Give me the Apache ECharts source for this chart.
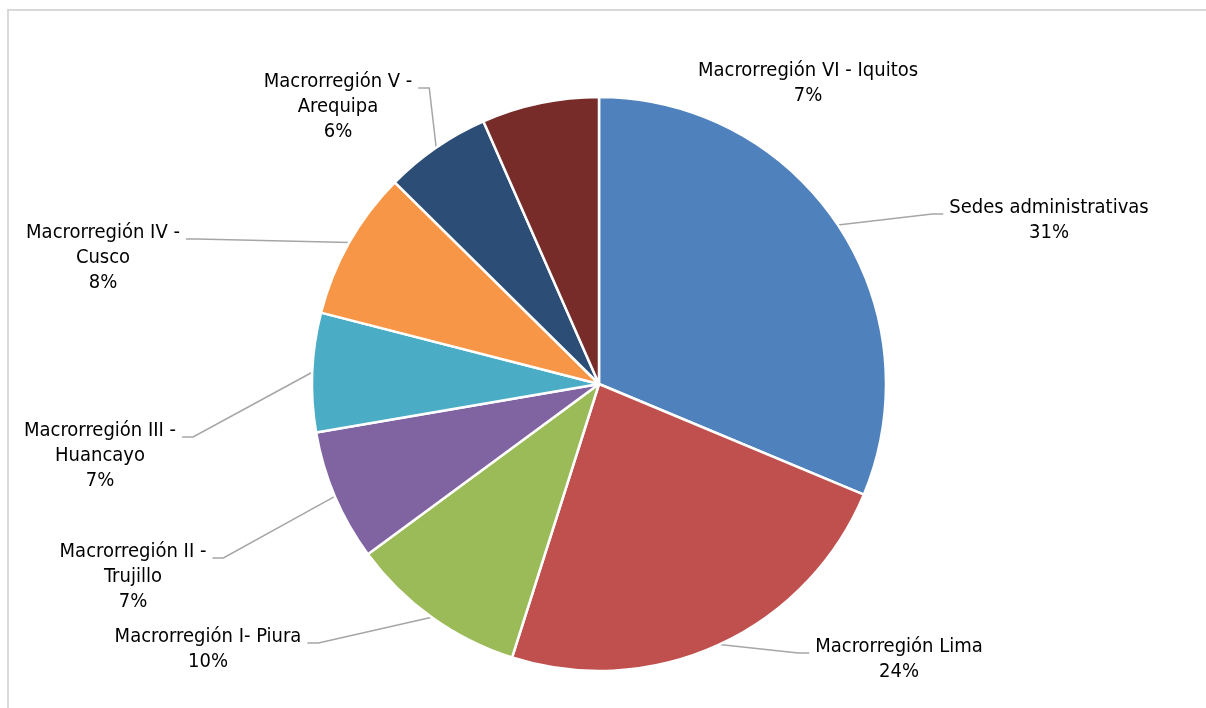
<!DOCTYPE html>
<html>
<head>
<meta charset="utf-8">
<script src="https://cdn.jsdelivr.net/npm/echarts@6/dist/echarts.min.js"></script>
<style>
html,body{margin:0;padding:0;background:#fff;}
#chart{width:1206px;height:708px;}
</style>
</head>
<body>
<div id="chart"></div>
<script>
// ---- data ----
const categories = [
  'Sedes administrativas',
  'Macrorregión Lima',
  'Macrorregión I- Piura',
  'Macrorregión II -\nTrujillo',
  'Macrorregión III -\nHuancayo',
  'Macrorregión IV -\nCusco',
  'Macrorregión V -\nArequipa',
  'Macrorregión VI - Iquitos'
];
const values = [31.3, 23.6, 10.0, 7.4, 6.7, 8.4, 6.0, 6.6];

// ---- styles ----
const colors = ['#4F81BD', '#C0504D', '#9BBB59', '#8064A2', '#4BACC6', '#F79646', '#2C4D75', '#772C2A'];
// label block placement: centre x, top y
const labelSpots = [
  {cx: 1049, top: 195},
  {cx: 899, top: 634},
  {cx: 208, top: 624},
  {cx: 133, top: 539},
  {cx: 100, top: 418},
  {cx: 103, top: 220},
  {cx: 338, top: 69},
  {cx: 808, top: 58}
];
const FONT = '"DejaVu Sans Condensed", Tahoma, "DejaVu Sans", sans-serif';
const FS = 20, LH = 25;

const chart = echarts.init(document.getElementById('chart'));
chart.setOption({
  animation: false,
  backgroundColor: '#fff',
  graphic: [{
    type: 'rect', silent: true, z: -10,
    shape: {x: 8, y: 10, width: 1300, height: 800},
    style: {fill: 'none', stroke: '#d9d9d9', lineWidth: 2}
  }],
  series: [{
    type: 'pie',
    center: [599, 384],
    radius: 287,
    startAngle: 90,
    clockwise: true,
    percentPrecision: 0,
    avoidLabelOverlap: false,
    itemStyle: {borderColor: '#fff', borderWidth: 2.5},
    label: {
      show: true,
      position: 'outside',
      formatter: '{b}\n{d}%',
      fontFamily: FONT,
      fontSize: FS,
      lineHeight: LH,
      color: '#000'
    },
    labelLine: {show: true, length: 20, length2: 10, lineStyle: {color: '#a6a6a6', width: 1.5}},
    labelLayout: function (p) {
      const s = labelSpots[p.dataIndex];
      const w = p.labelRect.width;
      const res = {x: s.cx, y: s.top, align: 'center', verticalAlign: 'top'};
      const pts = p.labelLinePoints;
      if (pts && pts.length) {
        const p0 = pts[0];
        const left = s.cx < p0[0];
        const ey = s.top + 19;
        const ex = left ? s.cx + w / 2 + 6 : s.cx - w / 2 - 6;
        const bx = left ? ex + 11 : ex - 11;
        res.labelLinePoints = [[p0[0], p0[1]], [bx, ey], [ex, ey]];
      }
      return res;
    },
    data: categories.map((c, i) => ({
      name: c,
      value: values[i],
      itemStyle: {color: colors[i]},
      labelLine: i === 7 ? {show: false} : undefined
    }))
  }]
});
</script>
</body>
</html>
